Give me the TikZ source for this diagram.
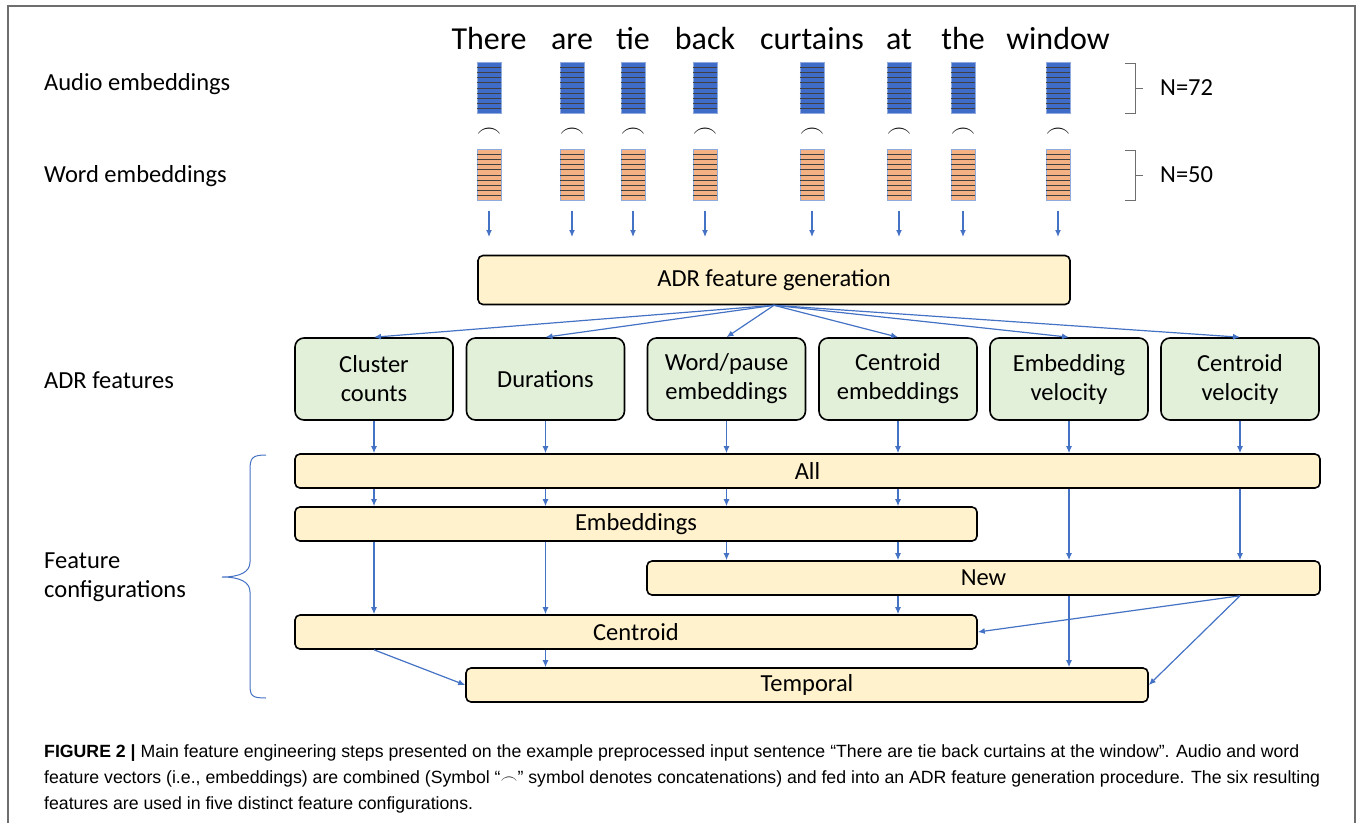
\documentclass[tikz,border=0pt]{standalone}
\usepackage{fontspec}
\setmainfont{Carlito}
\newfontfamily\capfont{Liberation Sans}
\usetikzlibrary{arrows.meta}
\definecolor{barblue}{HTML}{3F6CC8}
\definecolor{barorange}{HTML}{F4B183}
\definecolor{baredge}{HTML}{8FAADC}
\definecolor{arrblue}{HTML}{4472C4}
\definecolor{featgreen}{HTML}{E2F0D9}
\definecolor{confyellow}{HTML}{FFF2CC}
\definecolor{framegray}{HTML}{6E6E6E}
\newcommand{\boxfont}{\fontsize{24.5}{29}\selectfont}
\begin{document}
\begin{tikzpicture}[x=1pt, y=-1pt,
    arr/.style = {draw=arrblue, line width=1.2pt, -{Latex[length=7pt,width=6pt]}},
    audiobar/.style = {draw=baredge, fill=barblue, minimum width=24pt, minimum height=51pt, inner sep=0pt},
    wordbar/.style = {draw=baredge, fill=barorange, minimum width=24pt, minimum height=51pt, inner sep=0pt},
    stripe/.style = {black!75, line width=0.5pt},
    feat/.style = {draw, line width=1.6pt, rounded corners=9pt, fill=featgreen, minimum width=158pt, minimum height=82pt, align=center, font=\boxfont},
    conf/.style = {draw, line width=1.6pt, rounded corners=5pt, fill=confyellow, minimum height=34pt, inner sep=0pt, font=\boxfont},
    lbl/.style = {anchor=west, inner sep=0pt, align=left, font=\boxfont}]
  \useasboundingbox (0,0) rectangle (1358,823);
  \draw[framegray, line width=1.5pt] (8,823) -- (8,6) -- (1355,6) -- (1355,823);

  % row labels
  \node[lbl] (laudio) at (44,84) {Audio embeddings};
  \node[lbl] (lword) at (44,176) {Word embeddings};
  \node[lbl] (ladr) at (44,380) {ADR features};
  \node[lbl] (lconf) at (44,577) {Feature\\configurations};

  % sentence, embeddings and concatenation
  \foreach \x/\w [count=\i] in {489/There, 572/are, 633/tie, 705/back, 812/curtains, 899/at, 963/the, 1058/window} {
    \node[anchor=base, inner sep=0pt, font=\fontsize{32}{36}\selectfont] (w\i) at (\x,49) {\w};
    \node[audiobar] (ab\i) at (\x,88) {};
    \node[wordbar] (ob\i) at (\x,175) {};
    \foreach \k in {1,...,9} {
      \draw[stripe] ([yshift=-\k*5.1pt]ab\i.north west) -- ([yshift=-\k*5.1pt]ab\i.north east);
      \draw[stripe] ([yshift=-\k*5.1pt]ob\i.north west) -- ([yshift=-\k*5.1pt]ob\i.north east);
    }
    \node[font=\fontsize{28}{28}\selectfont, inner sep=0pt] (c\i) at (\x,133) {$\frown$};
    \coordinate (t\i) at (\x,237);
    \draw[arr] ([yshift=-10pt]ob\i.south) -- (t\i);
  }

  % vector sizes
  \draw[framegray, line width=1pt] (1125,63) -- (1135,63) -- (1135,113) -- (1125,113) (1135,88) -- (1143,88);
  \draw[framegray, line width=1pt] (1125,150) -- (1135,150) -- (1135,200) -- (1125,200) (1135,175) -- (1143,175);
  \node[lbl] (n72) at (1160,88) {N=72};
  \node[lbl] (n50) at (1160,175) {N=50};

  % ADR feature generation
  \node[conf, minimum width=592pt, minimum height=49pt] (gen) at (774,280) {ADR feature generation};

  \node[feat] (f1) at (374,379) {Cluster\\counts};
  \node[feat] (f2) at (545.5,379) {Durations};
  \node[feat] (f3) at (726.5,379) {Word/pause\\embeddings};
  \node[feat] (f4) at (898,379) {Centroid\\embeddings};
  \node[feat] (f5) at (1069,379) {Embedding\\velocity};
  \node[feat] (f6) at (1240,379) {Centroid\\velocity};
  \foreach \i in {1,...,6}
    \draw[arr] (gen.south) -- (f\i.north);

  % feature configurations
  \node[conf, minimum width=1025pt] (all) at (807.5,471) {All};
  \node[conf, minimum width=682pt] (emb) at (636,524) {Embeddings};
  \node[conf, minimum width=673pt] (new) at (983.5,578) {New};
  \node[conf, minimum width=682pt] (cen) at (636,632) {Centroid};
  \node[conf, minimum width=682pt] (tmp) at (807,685) {Temporal};

  \foreach \i in {1,...,6}
    \draw[arr] (f\i.south) -- (all.north -| f\i);
  \foreach \i in {1,...,4}
    \draw[arr] (all.south -| f\i) -- (emb.north -| f\i);
  \foreach \i in {5,6}
    \draw[arr] (all.south -| f\i) -- (new.north -| f\i);
  \foreach \i in {3,4}
    \draw[arr] (emb.south -| f\i) -- (new.north -| f\i);
  \foreach \i in {1,2}
    \draw[arr] (emb.south -| f\i) -- (cen.north -| f\i);
  \draw[arr] (new.south -| f4) -- (cen.north -| f4);
  \draw[arr] (new.south -| f6) -- (cen.east);
  \draw[arr] (new.south -| f5) -- (tmp.north -| f5);
  \draw[arr] (new.south -| f6) -- (tmp.east);
  \draw[arr] (cen.south -| f2) -- (tmp.north -| f2);
  \draw[arr] (cen.south -| f1) -- (tmp.west);

  % brace
  \draw[arrblue, line width=1pt] (266,455) .. controls (252,455) and (250,458) .. (250,470) -- (250,562)
    .. controls (250,572) and (240,577) .. (222,577) .. controls (240,577) and (250,582) .. (250,592)
    -- (250,685) .. controls (250,696) and (252,698) .. (266,698);

  % caption
  \node[anchor=north west, inner sep=0pt, align=left, font=\capfont\fontsize{17.7}{26}\selectfont] (cap) at (44,744)
    {\textbf{FIGURE 2 |} Main feature engineering steps presented on the example preprocessed input sentence “There are tie back curtains at the window”. Audio and word\\
     feature vectors (i.e., embeddings) are combined (Symbol “$\frown$” symbol denotes concatenations) and fed into an ADR feature generation procedure. The six resulting\\
     features are used in five distinct feature configurations.};
\end{tikzpicture}
\end{document}
